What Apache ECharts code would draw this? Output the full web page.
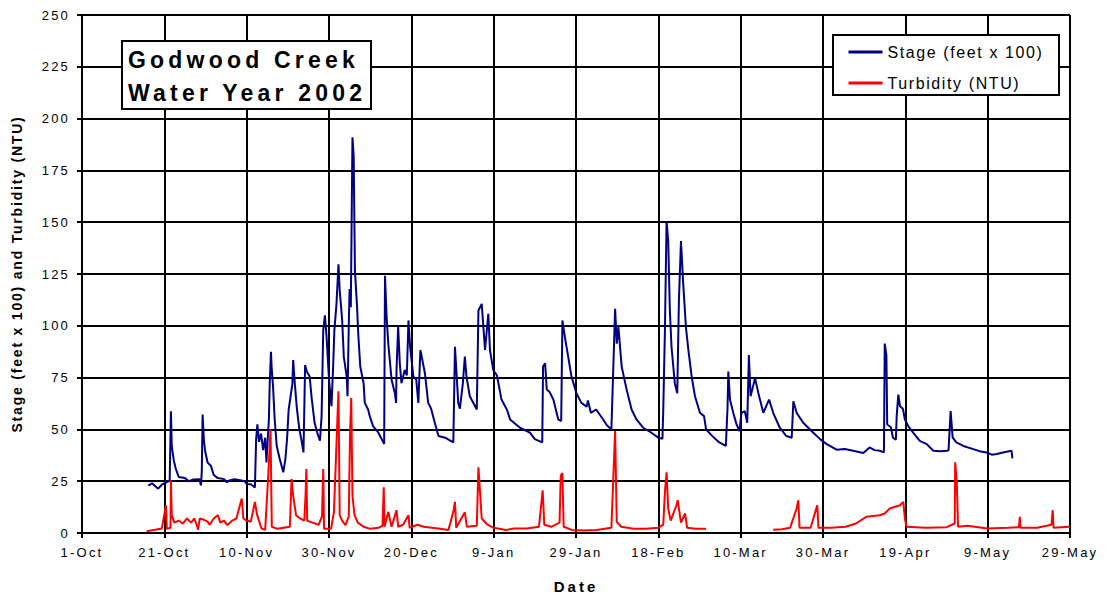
<!DOCTYPE html>
<html>
<head>
<meta charset="utf-8">
<script src="https://cdn.jsdelivr.net/npm/echarts@6/dist/echarts.min.js"></script>
<style>
  html, body { margin: 0; padding: 0; background: #fff; }
  #chart { width: 1106px; height: 599px; }
  #chart text[style*="13px"] { letter-spacing: 2.2px; }
  #chart text[style*="16px"] { letter-spacing: 1.6px; }
  #chart text[style*="14px"] { letter-spacing: 1.8px; }
  #chart text[style*="15px"] { letter-spacing: 3px; }
  #chart text[style*="23px"] { letter-spacing: 4.2px; }
</style>
</head>
<body>
<div id="chart"></div>
<script>
// ---- data (x = days since 1-Oct-2001) ----
const monthNames = ['Jan','Feb','Mar','Apr','May','Jun','Jul','Aug','Sep','Oct','Nov','Dec'];
const titleLines = ['Godwood Creek', 'Water Year 2002'];
const seriesNames = ['Stage (feet x 100)', 'Turbidity (NTU)'];

const stageDay = [16.1,17.0,18.5,19.5,20.5,21.3,21.6,21.8,22.3,22.8,23.5,25,26,27,28.5,28.9,29.1,29.3,29.6,29.9,30.5,31.3,32,33,34.5,35.2,36,37,38.4,39.5,40,41,42,
  42.3,42.6,43,43.5,44,44.5,44.8,45.4,45.6,45.9,46.1,46.4,46.8,47.3,48,48.9,49.4,49.8,50.2,50.6,51.1,51.3,51.7,52.2,52.8,53.3,53.8,
  54.0,54.2,54.6,55.3,55.8,56.5,57.2,57.8,58.2,58.6,59.0,59.4,60.0,60.6,61.0,61.3,61.8,62.3,62.6,62.9,63.2,63.6,64.3,64.5,64.8,65.0,
  65.3,65.5,65.7,66.0,66.3,66.8,67.1,67.6,68.4,68.7,69.5,69.9,70.7,72.0,72.8,73.4,73.6,74.0,74.4,74.8,75.2,76.0,76.3,76.4,76.8,77.2,
  77.6,78.4,78.9,79.3,79.7,80.5,81.2,81.7,82.2,83.3,84.1,84.8,85.7,86.6,88.2,90.2,90.6,91.4,91.8,92.5,93.0,93.4,94.2,95.9,96.3,97.1,
  97.9,98.7,99.1,99.9,100.8,101.9,103.2,104.0,106.4,108.8,110.0,111.8,112.0,112.5,112.9,113.6,114.5,115.7,116.4,116.7,117.3,118.1,
  118.9,120.1,121.3,122.6,122.9,123.6,124.9,126.6,127.5,128.6,129.5,129.9,130.3,131.1,132.3,133.5,134.7,136.3,138.3,140.0,141.0,
  141.2,141.6,142.0,142.4,142.8,143.2,144.0,144.6,145.0,145.5,146.0,146.7,147.3,148.1,148.9,150.1,151.1,151.6,153.0,154.8,156.4,
  156.8,157.0,157.4,158.2,159.0,159.7,160.2,161.0,161.6,162.0,162.4,163.5,164.3,165.5,166.9,167.9,169.5,171.1,172.4,172.8,173.6,
  175.2,177.2,179.3,180.9,183.3,185.3,187.3,189.8,191.3,192.5,193.8,194.8,195.0,195.4,195.6,196.5,197.0,197.7,197.9,198.3,198.7,199.4,199.9,
  200.7,201.9,203.5,205.2,206.8,208.5,210.2,210.5,211.0,211.5,212.4,214.1,216.5,218,219.7,221,222.2,224,225.8,226.0];
const stageVal = [22.9,24.0,21.4,23.5,24.5,25.3,58.8,42,35,30.9,27,26.5,25,25.8,26,23,30,57.2,45,39.7,34,32.5,28,26.5,26,24.5,25.5,26,25.5,25,23.7,23.5,22,
  45.3,52.4,44,48,40,46,34,55,72,87.5,78.7,71,55,42,36,29.3,35.7,45,59.6,65,72,83.5,72,60,50,45,38.9,
  60,81.1,78,75.5,65,53.2,48,44.5,56.4,97.8,105,95,74,61.2,80,97.8,110,129.7,117,110,102.6,85,75.5,66,100,117.7,
  109,150.4,191,181.5,126.5,110,96.2,80.3,72.3,62.8,59.6,56.4,51.6,48.4,45.3,42.9,124.1,104.2,91.4,82.7,74,67.5,62.8,78.7,99.4,81.9,
  72.3,78.7,76,102.6,89.9,75.5,74,62.8,88.3,77.1,62.8,60,53.2,46.8,46,43.7,89.9,62.8,60,72,85.1,75.5,66,59.6,107.4,110.6,
  88.3,105.8,88.3,78.7,76,64.4,59.6,54.8,50.8,48.4,45.3,43.7,80.3,81.9,69.2,68,64.4,54.8,54,102.6,94.6,85.1,
  75.5,67.5,62.8,61,64,58,59.6,54.8,52,50,108.2,91.4,99.4,80.3,69.2,59.6,54.8,50.8,48.4,46,45.5,
  59.6,97.8,150.4,140.9,107.4,89.9,72.3,67.5,112.2,140.9,121.8,99.4,88.3,75.5,66,58,56.4,50,47,43.7,42,
  60,77.9,64.4,58,52.4,49.2,58,58.8,53.2,85.9,66,74.7,67.5,58,64.4,58,50.8,46.8,46,63.6,58,
  53.2,49.2,45.3,42.9,40.2,40.5,39.7,38.6,41.3,40,39.7,38.9,91.4,85.9,52.4,51,46,45,56.4,66.8,61.2,60,54.8,
  51.6,48.4,44.5,42.9,39.7,39.5,39.7,40,58.8,46,43.7,42,40.5,39.5,38.9,37.8,38.1,39,39.7,36];

const turbDay = [15.7,17.5,19.4,20.4,20.6,21.5,21.6,21.8,22.4,23.5,24.5,25.5,26.5,27.3,28.0,28.2,28.6,29.5,30.5,31.0,32,33,33.6,34.5,35.3,
  36.5,37.5,38.8,39.2,40.0,41.0,42.0,42.5,43.6,44.5,45.3,45.8,46.1,47.5,49,50.5,50.9,51.3,52,53,54.0,54.3,54.5,54.7,56,57.5,58.3,
  58.6,58.8,60.5,61.2,62.3,62.6,63.2,64.0,64.8,65.1,65.4,65.7,66.2,67,68.4,70,72,73,73.3,73.5,74.4,75.2,76.4,76.8,78,79.3,79.6,
  81.5,83,85,87,89,90.2,90.6,90.9,93,93.5,95.9,96.3,97.1,98.5,100,103,105,108,111,111.9,112.3,114,116,116.3,116.7,117,119,122,
  125,128.6,129.5,129.9,131,134,137,140,141.2,141.6,142.0,142.4,143,144.4,144.7,145.5,146.5,147,149,151.6,
  160,
  167.9,170,172,173.6,174.0,174.3,177,178.6,178.9,182,185.5,188,190.5,193.8,195,196.2,198.7,199.5,199.9,200.3,205,210,212.0,
  212.1,212.5,212.8,215,220,225,227.6,227.8,228,232,235.5,235.8,236,240];
const turbVal = [0.8,1.5,2.2,13.4,2,2.5,25.3,8.6,5,6,4.5,7,5,7,3,1.6,7,6.5,5.5,4,7,8.6,5,6,3.8,
  6,7,16.6,7,6,5.4,15,9,2.2,1.5,30,50,3,2,2.5,3,26.1,18,8.6,7,6,18,30.9,6,5,4,8,
  30.9,2,2,10.2,68.4,8.6,6,3.8,8,46.8,65.2,18,8.6,5,3,2,2.5,3.5,22.1,3,10.2,3,11,3,4,8.6,2.5,
  4,3,2.5,2,1.5,10.2,15,2.5,10,3,3.5,31.7,7,4,2.5,1.5,2.2,2.2,3,20.6,4,3,5,27.7,29,3,1.5,1.2,
  1.5,2.5,49.2,5.4,3,2,2,2.5,4,19.7,29.3,11.8,6,13.4,15.8,5,9.4,2.5,2,2,
  null,
  1.6,1.8,2.5,11.8,15.8,2.5,2.5,13.4,2.5,2.5,3,4.6,7.8,8.6,9.4,11.8,13.4,15,7,3,2.5,2.8,4.6,
  34.1,24.5,3,3.5,2.2,2.5,2.8,7.8,2.5,2.5,4,11,2.5,3];

// ---- chart ----
const FONT = '"Liberation Sans", Arial, sans-serif';
const baseUTC = Date.UTC(2001, 9, 1);
function dayLabel(d) {
  const dt = new Date(baseUTC + d * 86400000);
  return dt.getUTCDate() + '-' + monthNames[dt.getUTCMonth()];
}
const zip = (xs, ys) => xs.map((x, i) => [x, ys[i]]);

const chart = echarts.init(document.getElementById('chart'), null, { renderer: 'svg' });
chart.setOption({
  animation: false,
  backgroundColor: '#ffffff',
  grid: { left: 82, right: 36, top: 15, bottom: 61, containLabel: false },
  xAxis: {
    type: 'value', min: 0, max: 240, interval: 20,
    name: 'Date', nameLocation: 'middle', nameGap: 46,
    nameTextStyle: { fontFamily: FONT, fontSize: 15, fontWeight: 'bold', color: '#000' },
    axisLine: { show: true, lineStyle: { color: '#000', width: 2 } },
    axisTick: { show: true, length: 5, lineStyle: { color: '#000', width: 2 } },
    axisLabel: { fontFamily: FONT, fontSize: 13, color: '#000', margin: 13, formatter: dayLabel },
    splitLine: { show: true, lineStyle: { color: '#000', width: 2 } }
  },
  yAxis: {
    type: 'value', min: 0, max: 250, interval: 25,
    name: 'Stage (feet x 100) and Turbidity (NTU)', nameLocation: 'middle', nameGap: 58,
    nameTextStyle: { fontFamily: FONT, fontSize: 14, fontWeight: 'bold', color: '#000' },
    axisLine: { show: true, lineStyle: { color: '#000', width: 2 } },
    axisTick: { show: true, length: 5, lineStyle: { color: '#000', width: 2 } },
    axisLabel: { fontFamily: FONT, fontSize: 13, color: '#000', margin: 12 },
    splitLine: { show: true, lineStyle: { color: '#000', width: 2 } }
  },
  legend: {
    orient: 'vertical', left: 847, top: 44, z: 10, padding: 0,
    itemWidth: 34, itemHeight: 14, itemGap: 15,
    itemStyle: { opacity: 0 },
    textStyle: { fontFamily: FONT, fontSize: 16, color: '#000' },
    data: [
      { name: seriesNames[0], lineStyle: { width: 3 } },
      { name: seriesNames[1], lineStyle: { width: 3 } }
    ]
  },
  graphic: [
    { type: 'rect', z: 5, shape: { x: 122, y: 41, width: 249, height: 68 },
      style: { fill: '#fff', stroke: '#000', lineWidth: 2 } },
    { type: 'text', z: 6, x: 128, y: 43,
      style: { text: titleLines.join('\n'), fontFamily: FONT, fontSize: 23, fontWeight: 'bold',
               fill: '#000', lineHeight: 33, textAlign: 'left', textVerticalAlign: 'top' } },
    { type: 'rect', z: 5, shape: { x: 833, y: 35, width: 226, height: 60 },
      style: { fill: '#fff', stroke: '#000', lineWidth: 2 } }
  ],
  series: [
    { name: seriesNames[0], type: 'line', data: zip(stageDay, stageVal), symbol: 'none',
      lineStyle: { color: '#000080', width: 2 }, itemStyle: { color: '#000080' }, z: 2 },
    { name: seriesNames[1], type: 'line', data: zip(turbDay, turbVal), symbol: 'none', connectNulls: false,
      lineStyle: { color: '#ff0000', width: 2 }, itemStyle: { color: '#ff0000' }, z: 3 }
  ]
});
</script>
</body>
</html>
